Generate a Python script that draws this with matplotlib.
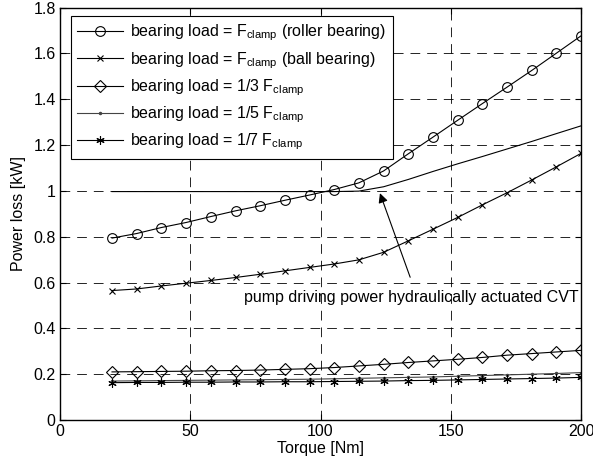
import numpy as np
import matplotlib
matplotlib.use("Agg")
import matplotlib.pyplot as plt

plt.rcParams['font.family'] = ['Liberation Sans', 'DejaVu Sans']
plt.rcParams['mathtext.fontset'] = 'custom'
plt.rcParams['mathtext.rm'] = 'Liberation Sans'
plt.rcParams['mathtext.default'] = 'regular'
plt.rcParams['lines.scale_dashes'] = False

# torque grid (20 points from 20 to 200 Nm)
torque = [20.0, 29.5, 38.9, 48.4, 57.9, 67.4, 76.8, 86.3, 95.8, 105.3,
          114.7, 124.2, 133.7, 143.2, 152.6, 162.1, 171.6, 181.1, 190.5, 200.0]

# power loss [kW]
roller = [0.794, 0.814, 0.840, 0.862, 0.888, 0.913, 0.935, 0.959, 0.982, 1.006,
          1.035, 1.087, 1.162, 1.235, 1.308, 1.381, 1.453, 1.526, 1.601, 1.677]
ball = [0.565, 0.572, 0.585, 0.597, 0.609, 0.622, 0.636, 0.651, 0.666, 0.681,
        0.699, 0.732, 0.782, 0.833, 0.884, 0.939, 0.992, 1.048, 1.105, 1.164]
third = [0.210, 0.211, 0.212, 0.213, 0.215, 0.216, 0.218, 0.221, 0.224, 0.229,
         0.236, 0.243, 0.251, 0.258, 0.265, 0.273, 0.283, 0.290, 0.297, 0.304]
fifth = [0.170, 0.171, 0.172, 0.173, 0.174, 0.175, 0.176, 0.177, 0.178, 0.180,
         0.182, 0.184, 0.186, 0.188, 0.191, 0.194, 0.197, 0.200, 0.203, 0.207]
seventh = [0.163, 0.164, 0.164, 0.165, 0.165, 0.166, 0.166, 0.167, 0.167, 0.168,
           0.169, 0.170, 0.172, 0.173, 0.175, 0.177, 0.179, 0.181, 0.183, 0.186]
pump = [0.997, 0.997, 0.997, 0.997, 0.997, 0.997, 0.997, 0.997, 0.997, 0.997,
        0.999, 1.018, 1.050, 1.085, 1.118, 1.150, 1.183, 1.216, 1.250, 1.284]

labels = [r'bearing load = F$_{clamp}$ (roller bearing)',
          r'bearing load = F$_{clamp}$ (ball bearing)',
          r'bearing load = 1/3 F$_{clamp}$',
          r'bearing load = 1/5 F$_{clamp}$',
          r'bearing load = 1/7 F$_{clamp}$']

xticks = [0, 50, 100, 150, 200]
yticks = [0, 0.2, 0.4, 0.6, 0.8, 1.0, 1.2, 1.4, 1.6, 1.8]
yticklabels = ['0', '0.2', '0.4', '0.6', '0.8', '1', '1.2', '1.4', '1.6', '1.8']

fs = 11.5

fig = plt.figure(figsize=(5.93, 4.66), dpi=100)
ax = fig.add_axes([0.101, 0.0987, 0.879, 0.885])

lw = 0.8
ax.plot(torque, pump, color='black', lw=lw)
ax.plot(torque, roller, color='black', lw=lw, marker='o', ms=7, mfc='none', mew=0.8, label=labels[0])
ax.plot(torque, ball, color='black', lw=lw, marker='x', ms=5, mew=0.8, label=labels[1])
ax.plot(torque, third, color='black', lw=lw, marker='D', ms=6, mfc='none', mew=0.8, label=labels[2])
ax.plot(torque, fifth, color='#444444', lw=lw, marker='.', ms=3, label=labels[3])
ax.plot(torque, seventh, color='black', lw=lw, marker=(6, 2, 0), ms=6, mew=0.8, label=labels[4])

# annotation: text and arrow pointing at the pump curve
ax.text(135, 0.535, 'pump driving power hydraulically actuated CVT',
        ha='center', va='center', fontsize=fs)
ax.annotate('', xy=(122.8, 0.99), xytext=(134.4, 0.623),
            arrowprops=dict(arrowstyle='-|>', color='black', lw=0.8,
                            mutation_scale=14, shrinkA=0, shrinkB=0))

ax.set_xlim(0, 200)
ax.set_ylim(0, 1.8)
ax.set_xticks(xticks)
ax.set_yticks(yticks)
ax.set_yticklabels(yticklabels)
ax.tick_params(direction='in', top=True, right=True, labelsize=fs, length=4, pad=3)
ax.grid(True, color='black', linestyle=(0, (7, 5)), lw=0.6)
for s in ax.spines.values():
    s.set_linewidth(1.0)

ax.set_xlabel('Torque [Nm]', fontsize=fs, labelpad=1)
ax.set_ylabel('Power loss [kW]', fontsize=fs, labelpad=5)

leg = ax.legend(loc='upper left', bbox_to_anchor=(0.0205, 0.979), fontsize=fs,
                frameon=True, fancybox=False, edgecolor='black', framealpha=1,
                borderpad=0.4, labelspacing=0.42, handlelength=2.9,
                handletextpad=0.45, borderaxespad=0)
leg.get_frame().set_linewidth(0.8)

fig.savefig('out.png', dpi=100)
